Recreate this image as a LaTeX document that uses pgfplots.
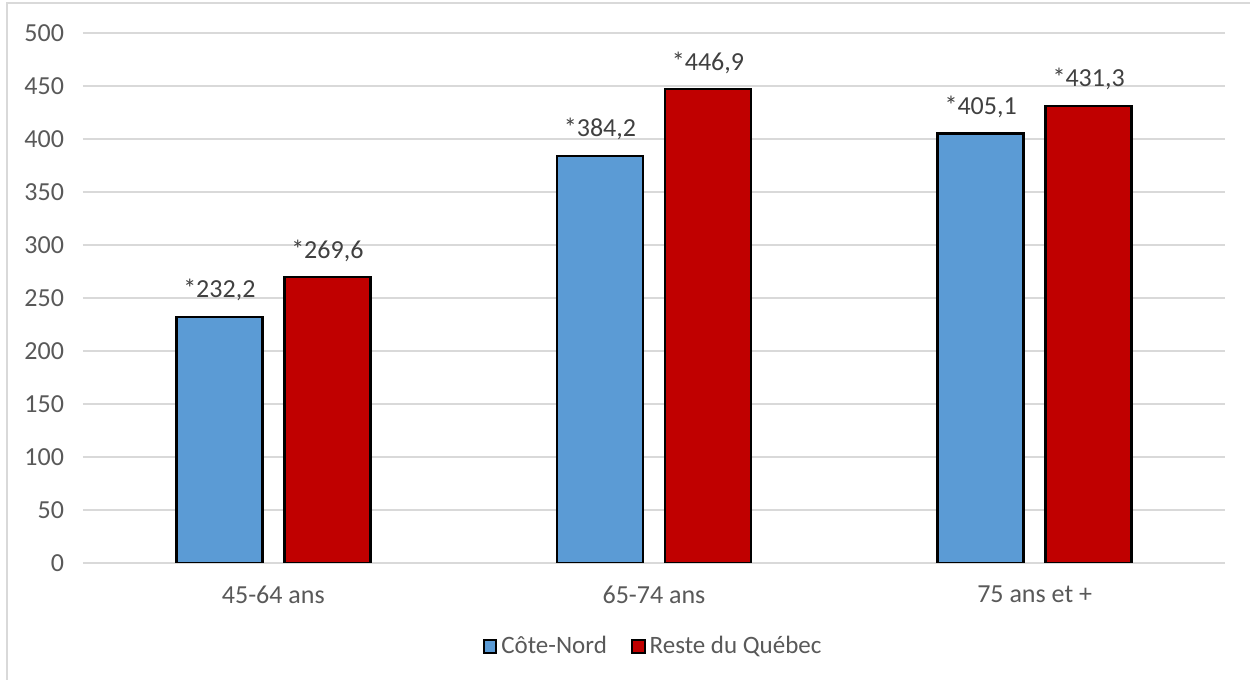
\documentclass[border=0pt]{standalone}
\usepackage{fontspec}
\setmainfont{Carlito}
\usepackage{pgfplots}
\pgfplotsset{compat=1.18}
\definecolor{cblue}{HTML}{5B9BD5}
\definecolor{cred}{HTML}{C00000}
\definecolor{gridc}{HTML}{D9D9D9}
\definecolor{tickc}{HTML}{595959}
\definecolor{labc}{HTML}{404040}
\begin{document}
\begin{tikzpicture}
\useasboundingbox (0,0) rectangle (625pt,340pt);
\draw[gridc, line width=1pt] (3.5pt,0) -- (3.5pt,338.5pt) -- (625pt,338.5pt);
\begin{axis}[
  at={(41.5pt,58.5pt)}, anchor=south west,
  scale only axis, width=571pt, height=265pt,
  ybar, bar width=43pt,
  xmin=-0.5, xmax=2.5, ymin=0, ymax=500,
  xtick={0,1,2}, xticklabels={45-64 ans,65-74 ans,75 ans et +},
  ytick={0,50,...,500},
  ymajorgrids, grid style={gridc, line width=1pt},
  axis line style={draw=none},
  major tick length=0pt,
  /pgf/number format/assume math mode=true,
  tick label style={font=\fontsize{13}{15}\selectfont, text=tickc},
  xticklabel style={yshift=-8pt},
  yticklabel style={xshift=-6pt},
  nodes near coords={*\pgfmathprintnumber[fixed,precision=1,fixed zerofill,use comma,assume math mode=true]{\pgfplotspointmeta}},
  nodes near coords style={font=\fontsize{13}{15}\selectfont, text=labc, yshift=4pt},
  legend style={at={(0.5,-0.157)}, anchor=center, draw=none, legend columns=2,
    font=\fontsize{12.5}{15}\selectfont, text=tickc,
    /tikz/every even column/.append style={column sep=10pt}},
  legend image code/.code={\draw[#1, draw=black, line width=1pt] (0pt,-3.2pt) rectangle (6.4pt,3.2pt);},
]
\addplot[fill=cblue, draw=black, line width=1.2pt, bar shift=-27pt] coordinates {(0,232.2) (1,384.2) (2,405.1)};
\addplot[fill=cred, draw=black, line width=1.2pt, bar shift=27pt] coordinates {(0,269.6) (1,446.9) (2,431.3)};
\legend{Côte-Nord, Reste du Québec}
\end{axis}
\end{tikzpicture}
\end{document}
